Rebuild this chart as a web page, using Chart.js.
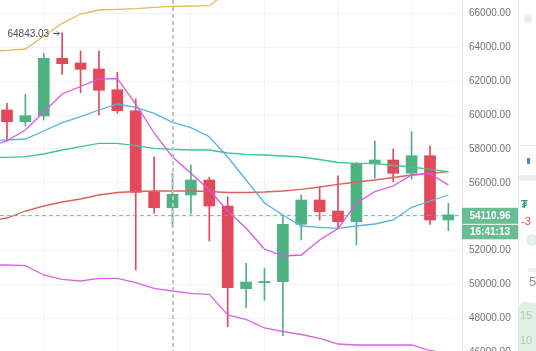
<!DOCTYPE html>
<html>
<head>
<meta charset="utf-8">
<script src="https://cdn.jsdelivr.net/npm/chart.js@4.4.1/dist/chart.umd.min.js"></script>
<style>
html, body { margin: 0; padding: 0; background: #fff; overflow: hidden; }
#wrap { width: 536px; height: 370px; position: relative; }
</style>
</head>
<body>
<div id="wrap"><canvas id="koersChart"></canvas></div>
<script>
// Candles (index 0 = first candle on screen)
const candles = [0, 1, 2, 3, 4, 5, 6, 7, 8, 9, 10, 11, 12, 13, 14, 15, 16, 17, 18, 19, 20, 21, 22, 23, 24];
const opens  = [60295, 59604, 59941, 63345, 63068, 62714, 61492, 60253, 55474, 54530, 55280, 56165, 54630, 49751, 50110, 50164, 53551, 54985, 54335, 53704, 57109, 57345, 56560, 57598, 53805];
const highs  = [60690, 61221, 63640, 64843.03, 63776, 63776, 62519, 60944, 57539, 56560, 57050, 56324, 55179, 51250, 50955, 54000, 55280, 55710, 56418, 57209, 58466, 57994, 59014, 58188, 54790];
const lows   = [58466, 59351, 59705, 62401, 61315, 60000, 60100, 50855, 54200, 53350, 54159, 52566, 47510, 48630, 49067, 46978, 52625, 53805, 53315, 52330, 56265, 56064, 56224, 53551, 53173];
const closes = [59604, 59958, 63345, 63026, 62696, 61457, 60253, 55439, 54530, 55321, 56165, 54630, 49810, 50147, 50180, 53551, 54985, 54294, 53704, 57150, 57345, 56560, 57598, 53805, 54110.96];

// Indicator lines (start one candle left of the screen)
const lineIdx = [-1, 0, 1, 2, 3, 4, 5, 6, 7, 8, 9, 10, 11, 12, 13, 14, 15, 16, 17, 18, 19, 20, 21, 22, 23, 24];
const ma7   = [58112, 58483, 59115, 60177, 61239, 61681, 62124, 62141, 60649, 58938, 57522, 56560, 55575, 54336, 53333, 52094, 51681, 51740, 52625, 53303, 54790, 55486, 55811, 56460, 56536, 55870];
const ma25  = [58495, 58525, 58584, 59056, 59545, 59899, 60295, 60649, 60454, 60100, 59569, 59250, 58719, 57522, 56165, 54808, 54100, 53451, 53374, 53315, 53451, 53569, 53805, 54554, 54926, 55280];
const ma99  = [53746, 53923, 54336, 54631, 54867, 55044, 55280, 55427, 55486, 55516, 55516, 55516, 55486, 55427, 55427, 55457, 55516, 55616, 55752, 55911, 56047, 56165, 56312, 56460, 56548, 56654];
const bollMid = [57492, 57504, 57539, 57699, 57935, 58129, 58330, 58330, 58188, 58035, 57976, 57935, 57935, 57758, 57681, 57640, 57581, 57522, 57374, 57197, 57150, 57150, 57020, 56932, 56796, 56654];
const bollUp  = [63746, 63817, 63894, 64649, 65410, 65959, 66195, 66236, 66271, 66354, 66413, 66431, 66448, 67251, 67416, 67847, 67936, 67995, 67923, 67905, 67870, 67870, 67610, 67434, 67487, 67409];
const bollDn  = [51150, 51150, 51108, 50560, 50306, 50206, 50365, 50365, 50105, 49775, 49616, 49480, 49421, 48200, 47946, 47433, 47226, 47049, 46825, 46489, 46430, 46430, 46430, 46430, 46105, 45899];

// Axis
const priceTicks = [46000, 48000, 50000, 52000, 54000, 56000, 58000, 60000, 62000, 64000, 66000];
const gridCandles = [0, 4, 8, 12, 16, 20, 24];
const crossCandle = 9;
const clockText = '16:41:13';

const upColor = '#4fb283';
const downColor = '#e2495a';
const candleColors = candles.map((c, i) => closes[i] >= opens[i] ? upColor : downColor);
const labelFont = '"Liberation Sans", Arial, sans-serif';

const lineSet = (label, values, color) => ({
    type: 'line',
    label: label,
    data: lineIdx.map((x, i) => ({ x: x, y: values[i] })),
    borderColor: color,
    borderWidth: 1.3,
    pointRadius: 0,
    tension: 0,
    fill: false
});

// Extra drawing: price line, crosshair, badges, high label, side panel
const overlay = {
    id: 'overlay',
    afterDatasetsDraw(chart) {
        const { ctx, chartArea: a, scales: { x, y } } = chart;
        ctx.save();
        ctx.beginPath();
        ctx.rect(a.left, a.top, a.right - a.left, a.bottom - a.top);
        ctx.clip();

        // current price line
        const py = Math.round(y.getPixelForValue(closes[closes.length - 1])) + 0.5;
        ctx.strokeStyle = 'rgba(79,178,131,0.75)';
        ctx.lineWidth = 1;
        ctx.setLineDash([4, 3]);
        ctx.beginPath();
        ctx.moveTo(a.left, py);
        ctx.lineTo(a.right, py);
        ctx.stroke();

        // crosshair
        const cx = Math.round(x.getPixelForValue(crossCandle));
        ctx.strokeStyle = '#bfc3cb';
        ctx.lineWidth = 2;
        ctx.setLineDash([4, 3]);
        ctx.beginPath();
        ctx.moveTo(cx, a.top);
        ctx.lineTo(cx, a.bottom);
        ctx.stroke();
        ctx.setLineDash([]);

        // highest high label
        const hi = highs.indexOf(Math.max(...highs));
        const hx = x.getPixelForValue(hi);
        const hy = y.getPixelForValue(highs[hi]);
        ctx.fillStyle = '#4a4d55';
        ctx.font = '10px ' + labelFont;
        ctx.textAlign = 'right';
        ctx.textBaseline = 'middle';
        ctx.fillText(highs[hi].toFixed(2), hx - 13, hy + 1);
        ctx.strokeStyle = '#4a4d55';
        ctx.lineWidth = 1;
        ctx.beginPath();
        ctx.moveTo(hx - 9, Math.round(hy) + 0.5);
        ctx.lineTo(hx - 3, Math.round(hy) + 0.5);
        ctx.moveTo(hx - 5, Math.round(hy) - 1.5);
        ctx.lineTo(hx - 3, Math.round(hy) + 0.5);
        ctx.lineTo(hx - 5, Math.round(hy) + 2.5);
        ctx.stroke();
        ctx.restore();
    },
    afterDraw(chart) {
        const { ctx, chartArea: a, scales: { y } } = chart;
        const w = chart.width;
        const py = y.getPixelForValue(closes[closes.length - 1]);
        const bx = a.right;
        const bw = y.right - a.right;
        ctx.save();

        // price + countdown badge
        ctx.fillStyle = 'rgba(79,178,131,0.85)';
        ctx.fillRect(bx, py - 7, bw, 16);
        ctx.fillRect(bx, py + 10, bw, 14.5);
        ctx.fillStyle = '#fff';
        ctx.font = '600 10px ' + labelFont;
        ctx.textAlign = 'center';
        ctx.textBaseline = 'middle';
        ctx.fillText(closes[closes.length - 1].toFixed(2), bx + bw / 2, py + 1);
        ctx.fillText(clockText, bx + bw / 2, py + 17.5);

        // side panel
        const sx = y.right;
        ctx.fillStyle = '#e3e5ea';
        ctx.fillRect(sx, 0, 1, chart.height);
        ctx.fillRect(sx + 1, 145, w - sx, 1);
        ctx.fillStyle = '#eef0f3';
        ctx.fillRect(sx + 1, 175, w - sx, 6);
        ctx.fillStyle = '#eceef2';
        ctx.beginPath();
        ctx.arc(sx + 10, 19, 4, 0, Math.PI * 2);
        ctx.fill();
        ctx.fillStyle = '#3d8fe0';
        ctx.fillRect(sx + 9, 158, 3, 6);
        ctx.fillStyle = '#e3f1e9';
        ctx.beginPath();
        ctx.arc(sx + 14, 240, 6, 0, Math.PI * 2);
        ctx.fill();
        ctx.fillStyle = '#eceef2';
        ctx.fillRect(sx + 10, 268, w - sx, 4);
        ctx.fillStyle = '#dff0e6';
        ctx.beginPath();
        ctx.moveTo(sx + 1, chart.height);
        ctx.lineTo(sx + 1, 306);
        ctx.quadraticCurveTo(sx + 5, 300, sx + 10, 302);
        ctx.quadraticCurveTo(sx + 15, 304, w, 303);
        ctx.lineTo(w, chart.height);
        ctx.closePath();
        ctx.fill();

        ctx.textAlign = 'left';
        ctx.textBaseline = 'middle';
        ctx.font = 'bold 11px ' + labelFont;
        ctx.fillStyle = '#26a17b';
        ctx.fillText('₮', sx + 3, 205);
        ctx.font = '11px ' + labelFont;
        ctx.fillStyle = '#e04848';
        ctx.fillText('-3', sx + 3, 222);
        ctx.font = '13px ' + labelFont;
        ctx.fillStyle = '#8a8d96';
        ctx.fillText('5', sx + 11, 282);
        ctx.font = '11px ' + labelFont;
        ctx.fillStyle = '#b4c9bd';
        ctx.fillText('15', sx + 2, 316);
        ctx.fillText('10', sx + 2, 341);
        ctx.restore();
    }
};

const ctx = document.getElementById('koersChart').getContext('2d');

const koersChart = new Chart(ctx, {
    type: 'bar',
    data: {
        datasets: [
            lineSet('MA7', ma7, '#db55e8'),
            lineSet('MA25', ma25, '#58b3e2'),
            lineSet('BOLL', bollMid, '#3cc78c'),
            lineSet('MA99', ma99, '#df5f5d'),
            lineSet('UB', bollUp, '#e2bb5a'),
            lineSet('LB', bollDn, '#d766e4'),
            {
                label: 'body',
                data: candles.map((x, i) => ({ x: x, y: [opens[i], closes[i]] })),
                backgroundColor: candleColors,
                barThickness: 11,
                grouped: false
            },
            {
                label: 'wick',
                data: candles.map((x, i) => ({ x: x, y: [lows[i], highs[i]] })),
                backgroundColor: candleColors,
                barThickness: 1,
                grouped: false
            }
        ]
    },
    options: {
        responsive: true,
        maintainAspectRatio: false,
        animation: false,
        layout: { padding: { left: 0, right: 18, top: 0, bottom: 0 } },
        plugins: {
            legend: { display: false },
            tooltip: { enabled: false }
        },
        scales: {
            x: {
                type: 'linear',
                min: -0.38,
                max: 24.74,
                offset: false,
                afterBuildTicks: s => { s.ticks = gridCandles.map(v => ({ value: v })); },
                ticks: { display: false },
                grid: { color: '#f0f3fa', drawTicks: false },
                border: { display: false }
            },
            y: {
                position: 'right',
                min: 44955,
                max: 66785,
                afterBuildTicks: s => { s.ticks = priceTicks.map(v => ({ value: v })); },
                afterFit: s => { s.width = 56; s.paddingTop = 0; s.paddingBottom = 0; },
                ticks: {
                    padding: 7,
                    color: '#6e717b',
                    font: { family: labelFont, size: 10 },
                    callback: v => v.toFixed(2)
                },
                grid: { color: '#f0f3fa', drawTicks: false },
                border: { color: '#e0e3eb' }
            }
        }
    },
    plugins: [overlay]
});
</script>
</body>
</html>
